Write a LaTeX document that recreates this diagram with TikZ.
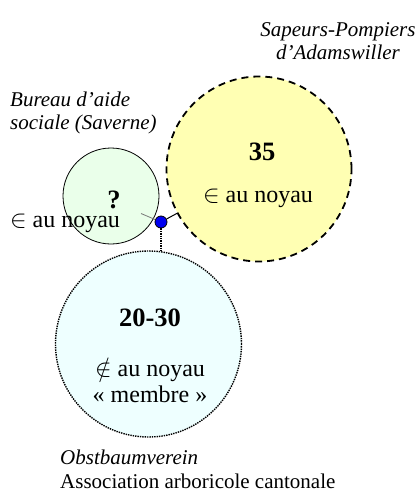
\documentclass[tikz,border=0pt]{standalone}
\usepackage{fontspec}
\setmainfont{Liberation Serif}
\usepackage{tikz}
\usetikzlibrary{positioning}
\definecolor{pompiersfill}{RGB}{255,255,179}
\definecolor{bureaufill}{RGB}{234,255,234}
\definecolor{vereinfill}{RGB}{238,255,255}
\definecolor{linkgray}{RGB}{120,120,120}
\definecolor{dotblue}{RGB}{0,0,240}

\begin{document}
\begin{tikzpicture}[x=1pt, y=-1pt,
    font=\fontsize{21}{23.5}\selectfont,
    member/.style={circle, inner sep=0pt},
    label/.style={inner sep=0pt, align=center},
    inner/.style={label, font=\fontsize{24}{26}\selectfont},
    count/.style={label, font=\fontsize{26.5}{28}\selectfont\bfseries}]
  \useasboundingbox (0,0) rectangle (420,493);

  % Circles
  \node[member, draw=black, line width=1.8pt, dash pattern=on 7pt off 5pt,
    fill=pompiersfill, minimum size=185] (pompiers) at (259,169) {};
  \node[member, draw=black, line width=0.8pt, fill=bureaufill,
    minimum size=96] (bureau) at (111,196) {};
  \node[member, draw=black, line width=1.4pt, densely dotted,
    fill=vereinfill, minimum size=186] (verein) at (148.5,344) {};

  % Texts in the circles
  \node[count] (pompiersnb) at (262,152) {35};
  \node[inner] (pompiersin) at (258,198) {$\in$ au noyau};
  \node[count] (bureaunb) at (114,200) {?};
  \node[inner] (bureauin) at (65,223) {$\in$ au noyau};
  \node[count] (vereinnb) at (150,318) {20-30};
  \node[inner] (vereinin) at (150,380) {$\notin$ au noyau\\« membre »};

  % Names
  \node[label, font=\fontsize{21}{23.5}\selectfont\itshape] (pompiersname) at (338,41)
    {Sapeurs-Pompiers\\d’Adamswiller};
  \node[label, font=\fontsize{21}{23.5}\selectfont\itshape, align=left, anchor=west]
    (bureauname) at (10,113) {Bureau d’aide\\sociale (Saverne)};
  \node[label, align=left, anchor=north west] (vereinname) at (60,450)
    {\textit{Obstbaumverein}\\Association arboricole cantonale};

  % Links
  \node[member, draw=black, line width=0.8pt, fill=dotblue,
    minimum size=12] (hub) at (161,222) {};
  \coordinate (bureautip) at (141,213.5);
  \draw[linkgray, line width=0.8pt] (hub) -- (bureautip);
  \draw[black, line width=1pt] (hub) -- (pompiers);
  \draw[black, line width=1.4pt, densely dotted] (hub) -- (hub |- verein.north);
\end{tikzpicture}
\end{document}
